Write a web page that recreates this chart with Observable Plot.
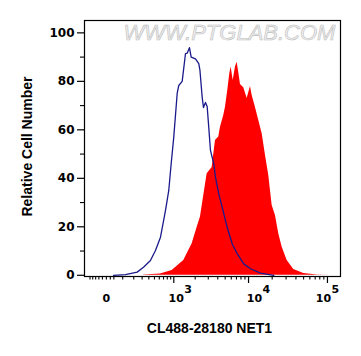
<!DOCTYPE html>
<html>
<head>
<meta charset="utf-8">
<script src="https://cdn.jsdelivr.net/npm/d3@7"></script>
<script src="https://cdn.jsdelivr.net/npm/@observablehq/plot@0.6"></script>
<style>
  body { margin: 0; background: #fff; }
  #chart svg { display: block; }
</style>
</head>
<body>
<div id="chart"></div>
<script>
// Control (unstained/isotype) histogram – blue outline
const blueX = [38, 122, 238, 319, 427, 520, 627, 750, 842, 915, 999, 1120, 1181, 1320, 1469, 1551, 1670, 1762, 2018, 2238, 2322, 2486, 2588, 2753, 2900, 3045, 3208, 3546, 3734, 4125, 4569, 5307, 6161, 7145, 8687, 10588, 14203, 20955];
const blueY = [0, 0.3, 1.3, 3.3, 6.1, 10.2, 15.7, 26.7, 35.0, 46.1, 57.0, 75.0, 78.3, 80.0, 91.4, 91.6, 93.9, 90.0, 89.3, 87.3, 84.5, 73.5, 69.2, 71.3, 69.6, 61.0, 51.5, 46.0, 40.5, 33.6, 28.1, 19.8, 13.0, 8.9, 4.7, 2.7, 0.9, 0];

// Stained sample histogram – red filled
const redX = [319, 457, 627, 946, 1390, 1819, 2129, 2359, 2612, 2900, 3378, 3734, 4125, 4341, 4793, 5044, 5404, 5737, 5980, 6348, 6795, 7145, 7494, 7882, 8687, 9606, 10588, 11129, 12262, 13512, 14927, 16442, 18109, 20002, 22022, 24252, 26784, 30985, 37554, 50256, 74121, 109065];
const redY = [0.1, 0.3, 0.5, 2.0, 6.1, 13.0, 19.8, 24.0, 32.9, 41.9, 44.5, 55.6, 57.0, 61.1, 65.9, 69.3, 76.2, 83.1, 85.9, 80.4, 85.9, 87.9, 83.7, 78.7, 77.4, 72.9, 77.9, 74.2, 69.2, 63.8, 58.4, 49.5, 41.2, 28.8, 24.7, 17.1, 11.6, 6.1, 2.4, 0.7, 0.1, 0];

// Axis ticks and labels
const yMajor = [0, 20, 40, 60, 80, 100];
const yMinor = [10, 30, 50, 70, 90];
const xMajor = [1000, 10000, 100000];
const xMinor = [-100, -80, -60, -40, -20, 0, 20, 40,
  100, 200, 300, 400, 500, 600, 700, 800, 900,
  2000, 3000, 4000, 5000, 6000, 7000, 8000, 9000,
  20000, 30000, 40000, 50000, 60000, 70000, 80000, 90000];
const xLabelValues = [0, 1000, 10000, 100000];
const xLabelBase = ["0", "10", "10", "10"];
const xLabelExp = ["", "3", "4", "5"];
const xTitle = "CL488-28180 NET1";
const yTitle = "Relative Cell Number";
const watermark = "WWW.PTGLAB.COM";

const blue = blueX.map((x, i) => ({x, y: blueY[i]}));
const red = redX.map((x, i) => ({x, y: redY[i]}));

const labelDx = [0, -5.3, -1.8, -11.7];
const tickFont = "DejaVu Sans";
const titleFont = "Liberation Sans";

const labelMarks = [];
xLabelValues.forEach((v, i) => {
  labelMarks.push(Plot.text([i], {
    x: d => xLabelValues[d], text: d => xLabelBase[d],
    frameAnchor: "bottom", dy: 22, dx: labelDx[i],
    textAnchor: i === 0 ? "middle" : "start", lineAnchor: "middle",
    fontFamily: tickFont, fontSize: 11, fontWeight: "bold", fill: "#000"
  }));
  if (xLabelExp[i]) {
    labelMarks.push(Plot.text([i], {
      x: d => xLabelValues[d], text: d => xLabelExp[d],
      frameAnchor: "bottom", dy: 12.5, dx: labelDx[i] + 15.7,
      textAnchor: "start", lineAnchor: "middle",
      fontFamily: tickFont, fontSize: 11, fontWeight: "bold", fill: "#000"
    }));
  }
});

const chart = Plot.plot({
  width: 361,
  height: 356,
  marginLeft: 84,
  marginRight: 21,
  marginTop: 20,
  marginBottom: 80,
  style: {fontFamily: titleFont, background: "#fff", color: "#000"},
  x: {type: "symlog", constant: 165, domain: [-146, 146000]},
  y: {domain: [-0.5, 105.1]},
  marks: [
    Plot.text([watermark], {
      frameAnchor: "top", dx: 17, dy: 12, lineAnchor: "middle",
      fontFamily: titleFont, fontSize: 22, fontStyle: "italic",
      fill: "#efefef", stroke: "#bdbdbd", strokeWidth: 0.6, paintOrder: "normal"
    }),
    Plot.areaY(red, {x: "x", y: "y", fill: "#ff0000", curve: "linear"}),
    Plot.lineY(blue, {x: "x", y: "y", stroke: "#1a1a8c", strokeWidth: 1.3, curve: "linear"}),
    Plot.frame({stroke: "#000", strokeWidth: 1.2}),
    Plot.axisY(yMajor, {
      tickSize: 7, tickPadding: 3, label: null, strokeWidth: 1.2,
      fontFamily: tickFont, fontSize: 12, fontWeight: "bold"
    }),
    Plot.axisY(yMinor, {tickSize: 4, tickFormat: () => "", label: null, strokeWidth: 1.1}),
    Plot.axisX(xMajor, {tickSize: 7, tickFormat: () => "", label: null, strokeWidth: 1.2}),
    Plot.axisX(xMinor, {tickSize: 3.5, tickFormat: () => "", label: null, strokeWidth: 1.1}),
    ...labelMarks,
    Plot.text([xTitle], {
      frameAnchor: "bottom", dy: 52, dx: -3, lineAnchor: "middle",
      fontFamily: titleFont, fontSize: 14, fontWeight: "bold", fill: "#000"
    }),
    Plot.text([yTitle], {
      frameAnchor: "left", dx: -57, dy: -2, rotate: -90,
      textAnchor: "middle", lineAnchor: "middle",
      fontFamily: titleFont, fontSize: 14, fontWeight: "bold", fill: "#000"
    })
  ]
});
document.getElementById("chart").appendChild(chart);
</script>
</body>
</html>
